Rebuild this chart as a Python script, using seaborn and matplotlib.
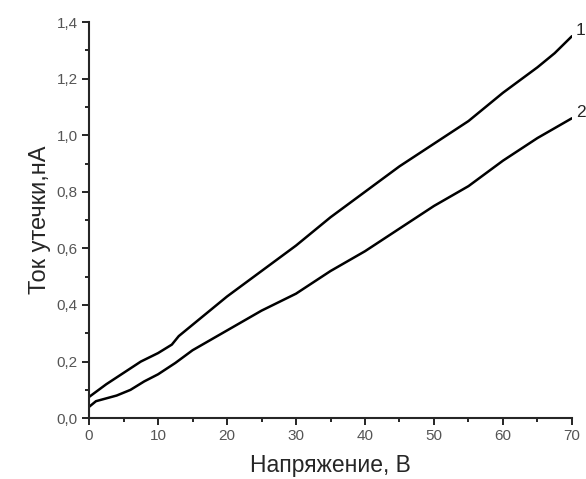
import numpy as np
import pandas as pd
import seaborn as sns
import matplotlib.pyplot as plt
from matplotlib.ticker import MultipleLocator

# Кривая 1
u1 = [0, 2.5, 5, 7.5, 10, 12, 13, 15, 17.5, 20, 22.5, 25, 27.5, 30, 32.5, 35, 37.5, 40,
      42.5, 45, 47.5, 50, 52.5, 55, 57.5, 60, 62.5, 65, 67.5, 70]
i1 = [0.075, 0.12, 0.16, 0.20, 0.23, 0.26, 0.29, 0.33, 0.38, 0.43, 0.475, 0.52, 0.565, 0.61,
      0.66, 0.71, 0.755, 0.80, 0.845, 0.89, 0.93, 0.97, 1.01, 1.05, 1.10, 1.15, 1.195, 1.24, 1.29, 1.35]
# Кривая 2
u2 = [0, 1, 4, 6, 8, 10, 12.5, 15, 17.5, 20, 22.5, 25, 27.5, 30, 32.5, 35, 37.5, 40,
      42.5, 45, 47.5, 50, 52.5, 55, 57.5, 60, 62.5, 65, 67.5, 70]
i2 = [0.04, 0.06, 0.08, 0.10, 0.13, 0.155, 0.195, 0.24, 0.275, 0.31, 0.345, 0.38, 0.41, 0.44,
      0.48, 0.52, 0.555, 0.59, 0.63, 0.67, 0.71, 0.75, 0.785, 0.82, 0.865, 0.91, 0.95, 0.99, 1.025, 1.06]

x_ticks = [0, 10, 20, 30, 40, 50, 60, 70]
y_ticks = [0.0, 0.2, 0.4, 0.6, 0.8, 1.0, 1.2, 1.4]
y_labels = ['0,0', '0,2', '0,4', '0,6', '0,8', '1,0', '1,2', '1,4']

sns.set_style('ticks')
plt.rcParams['font.family'] = ['Liberation Sans', 'DejaVu Sans']

df = pd.concat([
    pd.DataFrame({'U': u1, 'I': i1, 'curve': '1'}),
    pd.DataFrame({'U': u2, 'I': i2, 'curve': '2'}),
])

fig = plt.figure(figsize=(5.86, 4.79), dpi=100)
ax = fig.add_axes([0.152, 0.127, 0.824, 0.827])
sns.lineplot(data=df, x='U', y='I', hue='curve', palette=['black', 'black'],
             linewidth=1.8, legend=False, ax=ax)

ax.set_xlim(0, 70)
ax.set_ylim(0, 1.4)
ax.set_xticks(x_ticks)
ax.set_xticklabels([str(t) for t in x_ticks])
ax.set_yticks(y_ticks)
ax.set_yticklabels(y_labels)
ax.xaxis.set_minor_locator(MultipleLocator(5))
ax.yaxis.set_minor_locator(MultipleLocator(0.1))
ax.tick_params(which='major', length=5, width=1.2, labelsize=11, labelcolor='#555555',
               color='black', pad=3)
ax.tick_params(which='minor', length=3, width=1.2, color='black')
for s in ['left', 'bottom']:
    ax.spines[s].set_linewidth(1.5)
sns.despine(ax=ax)

ax.set_xlabel('Напряжение, В', fontsize=16.5, labelpad=8)
ax.set_ylabel('Ток утечки,нА', fontsize=17, labelpad=4)

ax.text(u1[-1] + 0.6, i1[-1] + 0.02, '1', fontsize=12.5, ha='left', va='center', clip_on=False)
ax.text(u2[-1] + 0.6, i2[-1] + 0.02, '2', fontsize=12.5, ha='left', va='center', clip_on=False)

fig.savefig('out.png', dpi=100)
